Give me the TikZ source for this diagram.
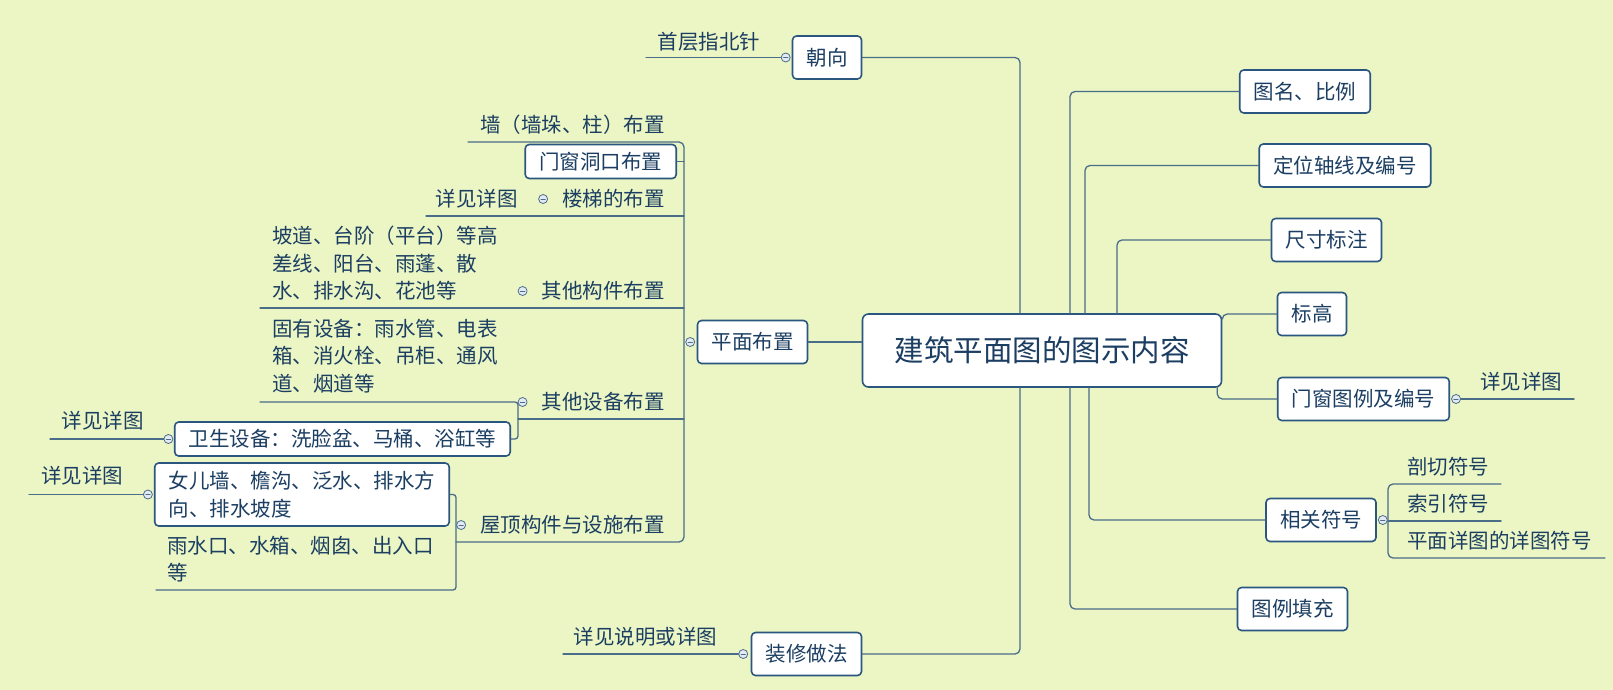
\documentclass[tikz,border=0pt]{standalone}
\usepackage{fontspec}
\newfontfamily\cjk{Noto Sans CJK SC}
\usetikzlibrary{positioning, calc}
\definecolor{paper}{HTML}{EBF6C4}
\definecolor{ink}{HTML}{1B3E62}
\definecolor{frame}{HTML}{2A5680}
\definecolor{wire}{HTML}{4A6D8A}
\definecolor{knob}{HTML}{E4EAF3}
\tikzset{
  every picture/.style={line cap=round, line join=round},
  topic/.style={draw=frame, fill=white, line width=1.6pt, rounded corners=4pt, text=ink,
                font=\cjk\fontsize{20.5}{27.5}\selectfont, inner xsep=14pt, inner ysep=0pt,
                minimum height=43pt},
  subtopic/.style={topic, minimum height=34pt},
  hub/.style={topic, rounded corners=6pt, font=\cjk\fontsize{29.5}{35}\selectfont,
              inner xsep=32pt, minimum height=73pt},
  leaf/.style={text=ink, font=\cjk\fontsize{20.5}{27.5}\selectfont, inner sep=0pt, align=left},
  conn/.style={draw=wire, line width=1.3pt, rounded corners=5pt},
  % collapse knob
  fold/.pic={
    \draw[wire, line width=0.8pt, fill=knob] (0,0) circle (4.5pt);
    \draw[wire, line width=0.8pt] (-2.2pt,0) -- (2.2pt,0);
  },
}

\begin{document}
\begin{tikzpicture}[x=1pt, y=-1pt]
  \fill[paper] (0,0) rectangle (1613,690);
  \useasboundingbox (0,0) rectangle (1613,690);
  % centre and first level
  \node[hub] (hub) at (1042,350.5) {建筑平面图的图示内容};
  \node[topic] (cx) at (827,57.5) {朝向};
  \node[topic] (pmbz) at (752.5,342) {平面布置};
  \node[topic] (zxzf) at (806.5,654) {装修做法};
  \node[topic] (tmbl) at (1305,91.5) {图名、比例};
  \node[topic] (dwzx) at (1345,165.5) {定位轴线及编号};
  \node[topic] (ccbz) at (1326.5,240) {尺寸标注};
  \node[topic] (bg) at (1312,314) {标高};
  \node[topic] (mctl) at (1363.5,399) {门窗图例及编号};
  \node[topic] (xgfh) at (1321,520) {相关符号};
  \node[topic] (tltc) at (1292.5,609) {图例填充};
  % left branch: 平面布置
  \node[leaf, anchor=east] (qiang) at (665,125) {墙（墙垛、柱）布置};
  \node[subtopic, anchor=east] (mcdk) at (677,161.5) {门窗洞口布置};
  \node[leaf, anchor=east] (ltbz) at (665,199) {楼梯的布置};
  \node[leaf, anchor=east] (ltxj) at (518,199) {详见详图};
  \node[leaf, anchor=east] (gjbz) at (665,291) {其他构件布置};
  \node[leaf, anchor=west] (gjmx) at (272,263.5) {坡道、台阶（平台）等高\\差线、阳台、雨蓬、散\\水、排水沟、花池等};
  \node[leaf, anchor=east] (sbbz) at (665,402) {其他设备布置};
  \node[leaf, anchor=west] (gysb) at (272,356) {固有设备：雨水管、电表\\箱、消火栓、吊柜、通风\\道、烟道等};
  \node[subtopic, anchor=east] (wssb) at (511,439) {卫生设备：洗脸盆、马桶、浴缸等};
  \node[leaf] (wsxj) at (102.5,421) {详见详图};
  \node[leaf, anchor=east] (wdbz) at (665,525) {屋顶构件与设施布置};
  \node[topic, anchor=east, align=left, minimum height=63pt] (nqbox) at (450,494.5) {女儿墙、檐沟、泛水、排水方\\向、排水坡度};
  \node[leaf] (nqxj) at (82,476) {详见详图};
  \node[leaf, anchor=west] (ysk) at (167,559) {雨水口、水箱、烟囱、出入口\\等};
  % leaves of the other branches
  \node[leaf] (zbz) at (709,42) {首层指北针};
  \node[leaf] (zxxj) at (645.5,637) {详见说明或详图};
  \node[leaf] (mcxj) at (1521,382) {详见详图};
  \node[leaf, anchor=west] (pqfh) at (1407,467) {剖切符号};
  \node[leaf, anchor=west] (syfh) at (1407,504) {索引符号};
  \node[leaf, anchor=west] (xtfh) at (1407,541) {平面详图的详图符号};
  % spines and free ends
  \coordinate (pmspine) at (684,342);
  \coordinate (sbspine) at (518,419);
  \coordinate (wdspine) at (456,542);
  \coordinate (xgspine) at (1388,520);
  \coordinate (qiangU) at (468,142);
  \coordinate (ltU) at (426,216);
  \coordinate (gjU) at (260,308);
  \coordinate (gyU) at (260,402);
  \coordinate (ysU) at (156,590);
  \coordinate (wsU) at (50,439);
  \coordinate (nqU) at (29,494.5);
  \coordinate (zbU) at (646,57.5);
  \coordinate (zxU) at (563,654);
  \coordinate (mcU) at (1574,399);
  \coordinate (pqU) at (1501,484);
  \coordinate (syU) at (1501,521);
  \coordinate (xtU) at (1605,558);
  % first level connectors
  \draw[conn] ([xshift=-22pt]hub.north) |- (cx.east);
  \draw[conn] ([xshift=-22pt]hub.south) |- (zxzf.east);
  \draw[conn] (pmbz.east) -- (pmbz.east -| hub.west);
  \draw[conn] ([xshift=28pt]hub.north) |- (tmbl.west);
  \draw[conn] ([xshift=43pt]hub.north) |- (dwzx.west);
  \draw[conn] ([xshift=75pt]hub.north) |- (ccbz.west);
  \draw[conn] ([yshift=-5pt]hub.north east) |- (bg.west);
  \draw[conn] ([xshift=-5pt]hub.south east) |- (mctl.west);
  \draw[conn] ([xshift=47pt]hub.south) |- (xgfh.west);
  \draw[conn] ([xshift=28pt]hub.south) |- (tltc.west);
  % 平面布置 children
  \draw[conn] (qiangU) -| (pmspine) |- (wdspine);
  \draw[conn] (mcdk.east) -- (mcdk.east -| pmspine);
  \draw[conn] (ltU) -- (ltU -| pmspine);
  \draw[conn] (gjU) -- (gjU -| pmspine);
  \draw[conn] (sbspine) -- (sbspine -| pmspine);
  \draw[conn, rounded corners=3pt] (gyU) -| (sbspine) |- (wssb.east);
  \draw[conn, rounded corners=3pt] (nqbox.east) -| (wdspine) |- (ysU);
  \draw[conn] (wsU) -- ([xshift=-5.5pt]wssb.west);
  \draw[conn] (nqU) -- ([xshift=-6pt]nqbox.west);
  % other leaves
  \draw[conn] (zbU) -- ([xshift=-6pt]cx.west);
  \draw[conn] (zxU) -- ([xshift=-7.5pt]zxzf.west);
  \draw[conn] ([xshift=6pt]mctl.east) -- (mcU);
  \draw[conn] (pqU) -| (xgspine) |- (xtU);
  \draw[conn] (syU) -- (syU -| xgspine);
  % knobs
  \pic at ([xshift=-6pt]cx.west) {fold};
  \pic at ([xshift=-6.5pt]pmbz.west) {fold};
  \pic at ([xshift=-7.5pt]zxzf.west) {fold};
  \pic at ([xshift=6pt]mctl.east) {fold};
  \pic at ([xshift=6pt]xgfh.east) {fold};
  \foreach \n in {ltbz, gjbz, sbbz, wdbz} {\pic at ([xshift=-19pt]\n.west) {fold};}
  \pic at ([xshift=-5.5pt]wssb.west) {fold};
  \pic at ([xshift=-6pt]nqbox.west) {fold};
\end{tikzpicture}
\end{document}
